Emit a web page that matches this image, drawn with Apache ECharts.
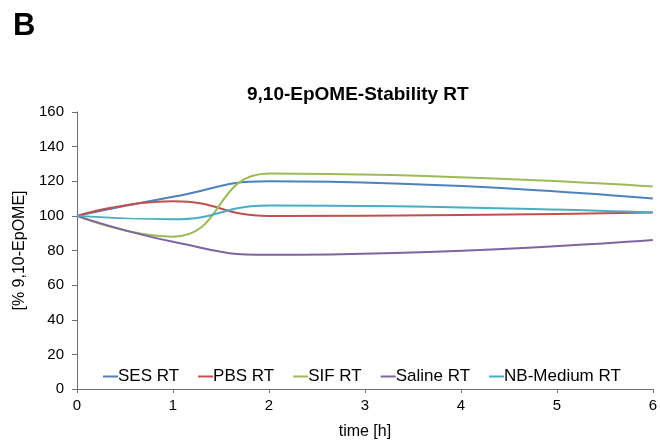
<!DOCTYPE html>
<html>
<head>
<meta charset="utf-8">
<script src="https://cdn.jsdelivr.net/npm/echarts@6/dist/echarts.min.js"></script>
<style>
  html, body { margin: 0; padding: 0; background: #fff; }
  #chart { width: 660px; height: 445px; }
</style>
</head>
<body>
<div id="chart"></div>
<script>
// time points [h]
var times = [0, 1, 2, 6];
// % remaining 9,10-EpOME
var sesRT = [100, 111, 120, 110];
var pbsRT = [100, 108.5, 100, 102];
var sifRT = [100, 88, 124.5, 117];
var salineRT = [100, 85, 77.5, 86];
var nbMediumRT = [100, 98, 106, 102];

var seriesNames = ["SES RT", "PBS RT", "SIF RT", "Saline RT", "NB-Medium RT"];
var seriesData = [sesRT, pbsRT, sifRT, salineRT, nbMediumRT];
var colors = ["#4F81BD", "#C0504D", "#9BBB59", "#8064A2", "#4BACC6"];

function pairs(ys) {
    return times.map(function (t, i) { return [t, ys[i]]; });
}

var font = "Liberation Sans, Arial, sans-serif";
var chart = echarts.init(document.getElementById("chart"));

var option = {
    animation: false,
    color: colors,
    textStyle: {fontFamily: font},
    title: [
        {
            text: "B",
            left: 13,
            top: 11,
            padding: 0,
            textStyle: {fontSize: 31, fontWeight: "bold", color: "#000", fontFamily: font}
        },
        {
            text: "9,10-EpOME-Stability RT",
            left: 247,
            top: 85,
            padding: 0,
            textStyle: {fontSize: 19, fontWeight: "bold", color: "#000", fontFamily: font}
        }
    ],
    legend: {
        top: 368,
        left: 103,
        padding: 0,
        itemWidth: 15,
        itemHeight: 2,
        itemGap: 19,
        icon: "rect",
        textStyle: {fontSize: 17, color: "#000", fontFamily: font, padding: [0, 0, 0, -5]},
        data: seriesNames
    },
    grid: {left: 77, right: 5, top: 112, bottom: 48, containLabel: false},
    xAxis: {
        type: "value",
        min: 0,
        max: 6,
        interval: 1,
        name: "time [h]",
        nameLocation: "middle",
        nameGap: 35,
        nameTextStyle: {fontSize: 16, color: "#000"},
        axisLine: {lineStyle: {color: "#707070", width: 1}},
        axisTick: {show: true, length: 4, lineStyle: {color: "#707070"}},
        axisLabel: {fontSize: 15, color: "#000", margin: 9},
        splitLine: {show: false}
    },
    yAxis: {
        type: "value",
        min: 0,
        max: 160,
        interval: 20,
        name: "[% 9,10-EpOME]",
        nameLocation: "middle",
        nameGap: 47,
        nameTextStyle: {fontSize: 16, color: "#000"},
        axisLine: {show: true, lineStyle: {color: "#707070", width: 1}},
        axisTick: {show: true, length: 5, lineStyle: {color: "#707070"}},
        axisLabel: {fontSize: 15, color: "#000", margin: 13},
        splitLine: {show: false}
    },
    series: seriesNames.map(function (name, i) {
        return {
            name: name,
            type: "line",
            smooth: 0.5,
            showSymbol: false,
            lineStyle: {width: 2},
            data: pairs(seriesData[i])
        };
    })
};

chart.setOption(option);
</script>
</body>
</html>
